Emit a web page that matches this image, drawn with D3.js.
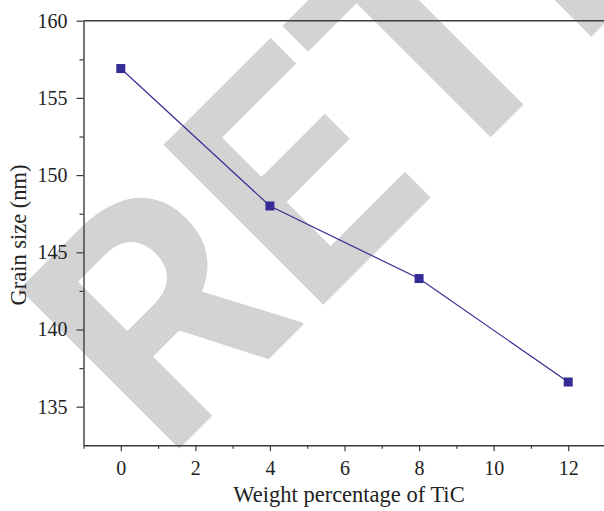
<!DOCTYPE html>
<html>
<head>
<meta charset="utf-8">
<script src="https://cdn.jsdelivr.net/npm/d3@7"></script>
<style>
body{margin:0;background:#fff;}
svg{display:block;}
</style>
</head>
<body>
<svg id="chart" width="604" height="511"></svg>
<script>
const weightPct = [0, 4, 8, 12];
const grainSize = [156.9, 148.0, 143.3, 136.6];
const xTicks = [0, 2, 4, 6, 8, 10, 12];
const xMinor = [-1, 1, 3, 5, 7, 9, 11, 13];
const yTicks = [135, 140, 145, 150, 155, 160];
const yMinor = [137.5, 142.5, 147.5, 152.5, 157.5];
const watermark = "RETRACTED";

const svg = d3.select("#chart");
const x = d3.scaleLinear().domain([-1, 13]).range([83.5, 605.5]);
const y = d3.scaleLinear().domain([132.5, 160]).range([445.3, 20.7]);

const axisColor = "#3c3c3c";
const serif = "'Liberation Serif', 'DejaVu Serif', serif";

// watermark
svg.append("text")
  .attr("transform", "translate(165,463) rotate(-45)")
  .attr("font-family", "Roboto, 'Liberation Sans', sans-serif")
  .attr("font-weight", 700)
  .attr("font-size", 318)
  .attr("fill", "#d3d3d3")
  .text(watermark);

// top frame line
svg.append("line")
  .attr("x1", x(-1)).attr("x2", x(13))
  .attr("y1", y(160)).attr("y2", y(160))
  .attr("stroke", axisColor).attr("stroke-width", 1.4);

function styleAxis(g){
  g.select(".domain").attr("stroke", axisColor).attr("stroke-width", 1.4);
  g.selectAll(".tick line").attr("stroke", axisColor).attr("stroke-width", 1.2);
  g.selectAll(".tick text").attr("fill", "#222").attr("font-family", serif).attr("font-size", 20);
}

// x axis minor
const gxm = svg.append("g").attr("transform", `translate(0,${y(132.5)})`)
  .call(d3.axisBottom(x).tickValues(xMinor).tickSize(3.5).tickFormat(""));
gxm.select(".domain").remove();
gxm.selectAll(".tick line").attr("stroke", axisColor).attr("stroke-width", 1.2);
// x axis major
const gx = svg.append("g").attr("transform", `translate(0,${y(132.5)})`)
  .call(d3.axisBottom(x).tickValues(xTicks).tickSize(6).tickSizeOuter(0).tickPadding(10).tickFormat(d3.format("d")));
styleAxis(gx);

// y axis minor
const gym = svg.append("g").attr("transform", `translate(${x(-1)},0)`)
  .call(d3.axisLeft(y).tickValues(yMinor).tickSize(4).tickFormat(""));
gym.select(".domain").remove();
gym.selectAll(".tick line").attr("stroke", axisColor).attr("stroke-width", 1.2);
// y axis major
const gy = svg.append("g").attr("transform", `translate(${x(-1)},0)`)
  .call(d3.axisLeft(y).tickValues(yTicks).tickSize(7).tickSizeOuter(0).tickPadding(9).tickFormat(d3.format("d")));
styleAxis(gy);

// axis titles
svg.append("text")
  .attr("x", 349).attr("y", 502)
  .attr("text-anchor", "middle")
  .attr("font-family", serif).attr("font-size", 22.5).attr("fill", "#222")
  .text("Weight percentage of TiC");
svg.append("text")
  .attr("transform", `translate(26,235) rotate(-90)`)
  .attr("text-anchor", "middle")
  .attr("font-family", serif).attr("font-size", 22.5).attr("fill", "#222")
  .text("Grain size (nm)");

// data line
const pts = weightPct.map((d, i) => [d, grainSize[i]]);
svg.append("path")
  .datum(pts)
  .attr("fill", "none")
  .attr("stroke", "#352d94")
  .attr("stroke-width", 1.2)
  .attr("d", d3.line().x(d => x(d[0])).y(d => y(d[1])));

const ms = 9;
svg.selectAll("rect.pt").data(pts).enter().append("rect")
  .attr("class", "pt")
  .attr("x", d => x(d[0]) - ms / 2)
  .attr("y", d => y(d[1]) - ms / 2)
  .attr("width", ms).attr("height", ms)
  .attr("fill", "#352c96");
</script>
</body>
</html>
